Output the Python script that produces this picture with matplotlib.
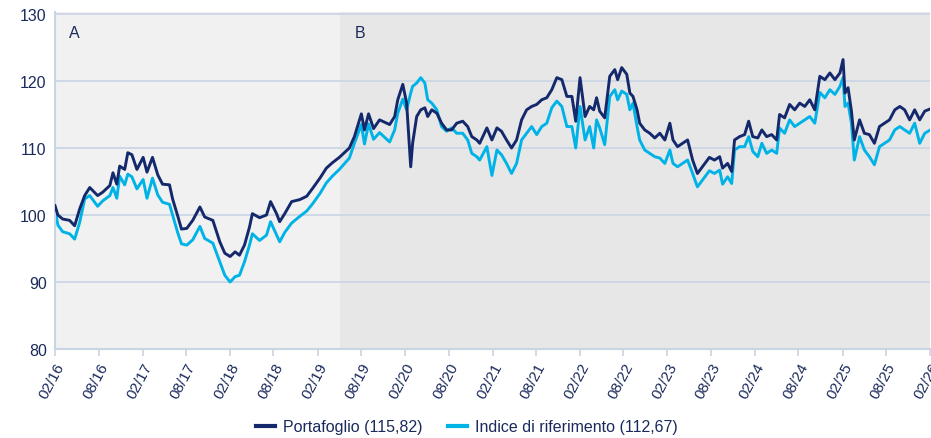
import matplotlib
matplotlib.use("Agg")
import matplotlib.pyplot as plt
import matplotlib.dates as mdates
import pandas as pd

plt.rcParams['font.family'] = ['Liberation Sans', 'DejaVu Sans']

dates = [
    "2016-02-01", "2016-02-13", "2016-03-04", "2016-04-02", "2016-04-23", "2016-05-14", "2016-06-04", "2016-06-25",
    "2016-07-28", "2016-08-18", "2016-09-17", "2016-09-30", "2016-10-16", "2016-10-28", "2016-11-18", "2016-12-01",
    "2016-12-18", "2017-01-08", "2017-02-03", "2017-02-19", "2017-03-14", "2017-04-05", "2017-04-25", "2017-05-24",
    "2017-06-06", "2017-06-27", "2017-07-13", "2017-08-04", "2017-08-29", "2017-09-28", "2017-10-18", "2017-11-21",
    "2017-12-20", "2018-01-10", "2018-02-01", "2018-02-22", "2018-03-12", "2018-04-02", "2018-04-23", "2018-05-05",
    "2018-06-04", "2018-07-03", "2018-07-20", "2018-08-14", "2018-08-27", "2018-09-17", "2018-10-16", "2018-11-19",
    "2018-12-18", "2019-01-12", "2019-02-11", "2019-03-10", "2019-04-04", "2019-05-03", "2019-06-14", "2019-07-05",
    "2019-08-03", "2019-08-16", "2019-09-02", "2019-09-23", "2019-10-18", "2019-11-29", "2019-12-20", "2020-01-02",
    "2020-01-23", "2020-02-08", "2020-02-25", "2020-03-04", "2020-03-21", "2020-04-07", "2020-04-24", "2020-05-06",
    "2020-05-23", "2020-06-13", "2020-07-03", "2020-07-24", "2020-08-14", "2020-09-04", "2020-09-29", "2020-10-20",
    "2020-11-06", "2020-11-27", "2020-12-09", "2021-01-08", "2021-01-29", "2021-02-19", "2021-03-10", "2021-03-31",
    "2021-04-21", "2021-05-12", "2021-06-02", "2021-06-23", "2021-07-14", "2021-08-04", "2021-08-25", "2021-09-15",
    "2021-10-06", "2021-10-27", "2021-11-17", "2021-12-08", "2021-12-29", "2022-01-14", "2022-02-01", "2022-02-22",
    "2022-03-13", "2022-03-30", "2022-04-11", "2022-04-24", "2022-05-15", "2022-06-05", "2022-06-26", "2022-07-08",
    "2022-07-25", "2022-08-15", "2022-08-28", "2022-09-10", "2022-09-27", "2022-10-08", "2022-10-29", "2022-11-19",
    "2022-12-10", "2022-12-31", "2023-01-21", "2023-02-11", "2023-02-24", "2023-03-15", "2023-04-05", "2023-04-26",
    "2023-05-17", "2023-06-06", "2023-06-27", "2023-07-26", "2023-08-16", "2023-09-07", "2023-09-19", "2023-10-10",
    "2023-10-27", "2023-11-08", "2023-11-29", "2023-12-20", "2024-01-06", "2024-01-23", "2024-02-13", "2024-03-01",
    "2024-03-21", "2024-04-11", "2024-05-02", "2024-05-14", "2024-06-04", "2024-06-25", "2024-07-16", "2024-08-06",
    "2024-08-27", "2024-09-17", "2024-10-08", "2024-10-29", "2024-11-19", "2024-12-10", "2024-12-31", "2025-01-21",
    "2025-02-03", "2025-02-11", "2025-02-24", "2025-03-10", "2025-03-22", "2025-04-13", "2025-05-03", "2025-05-24",
    "2025-06-14", "2025-07-05", "2025-07-26", "2025-08-16", "2025-09-07", "2025-09-28", "2025-10-18", "2025-11-08",
    "2025-11-29", "2025-12-20", "2026-01-10", "2026-02-01",
]

portafoglio = [
    101.4, 100.0, 99.4, 99.2, 98.4, 100.9, 102.9, 104.1,
    102.9, 103.4, 104.4, 106.3, 104.6, 107.3, 106.8, 109.3,
    109.0, 106.8, 108.6, 106.4, 108.6, 106.0, 104.6, 104.5,
    102.4, 99.9, 97.9, 98.0, 99.2, 101.2, 99.7, 99.2,
    96.0, 94.3, 93.8, 94.5, 94.0, 95.5, 98.2, 100.2,
    99.6, 100.0, 102.0, 100.2, 99.0, 100.2, 102.0, 102.3,
    102.8, 104.0, 105.5, 107.0, 107.8, 108.6, 110.0, 111.7,
    115.1, 112.7, 115.1, 112.9, 114.2, 113.5, 114.7, 117.2,
    119.5, 116.7, 107.2, 110.7, 114.7, 115.7, 116.0, 114.7,
    115.7, 115.2, 113.7, 112.7, 112.7, 113.7, 114.0, 113.2,
    111.7, 111.2, 110.7, 113.0, 111.2, 113.0, 112.5, 111.2,
    110.0, 111.2, 114.2, 115.7, 116.2, 116.5, 117.2, 117.5,
    118.7, 120.5, 120.2, 117.7, 117.7, 114.0, 120.5, 114.7,
    116.2, 115.7, 117.5, 115.5, 114.5, 120.7, 121.7, 120.2,
    122.0, 121.0, 118.2, 117.7, 115.7, 113.7, 112.7, 112.2,
    111.5, 112.2, 111.2, 113.7, 111.2, 110.2, 110.7, 111.2,
    108.2, 106.2, 107.2, 108.6, 108.2, 108.7, 107.0, 107.7,
    106.5, 111.2, 111.7, 112.0, 114.0, 111.7, 111.5, 112.7,
    111.7, 112.0, 111.2, 115.0, 114.5, 116.5, 115.7, 116.7,
    116.2, 117.2, 115.7, 120.7, 120.2, 121.2, 120.2, 121.2,
    123.2, 118.2, 119.0, 115.5, 111.2, 114.2, 112.2, 112.0,
    110.7, 113.2, 113.7, 114.2, 115.7, 116.2, 115.7, 114.2,
    115.7, 114.2, 115.5, 115.82,
]

indice = [
    100.9, 98.5, 97.5, 97.2, 96.4, 98.9, 102.4, 102.9,
    101.3, 102.1, 102.9, 104.1, 102.5, 105.8, 104.5, 106.1,
    105.7, 103.9, 105.3, 102.5, 105.5, 103.0, 101.9, 101.6,
    100.0, 97.4, 95.7, 95.5, 96.3, 98.3, 96.5, 95.8,
    93.0, 91.0, 90.0, 90.8, 91.0, 93.0, 95.5, 97.2,
    96.2, 97.0, 99.0, 97.0, 96.0, 97.4, 98.8, 99.8,
    100.6, 101.7, 103.2, 104.8, 105.8, 106.8, 108.5, 110.7,
    113.5, 110.6, 113.6, 111.3, 112.3, 110.9, 112.7, 115.2,
    117.3, 115.7, 118.2, 119.2, 119.7, 120.5, 119.7, 117.2,
    116.7, 115.7, 113.2, 112.5, 113.0, 112.2, 112.2, 111.2,
    109.2, 108.7, 108.2, 110.2, 105.9, 109.7, 109.0, 107.7,
    106.2, 107.7, 111.2, 112.2, 113.2, 112.0, 113.2, 113.7,
    116.0, 117.0, 116.2, 113.2, 113.2, 110.0, 116.2, 111.2,
    113.2, 110.0, 114.2, 113.0, 110.5, 117.7, 118.7, 117.2,
    118.5, 118.0, 115.7, 116.7, 113.2, 111.2, 109.7, 109.2,
    108.7, 108.5, 107.7, 109.7, 107.7, 107.2, 107.7, 108.2,
    106.2, 104.2, 105.2, 106.6, 106.2, 106.7, 104.6, 105.7,
    104.7, 109.7, 110.2, 110.2, 111.7, 109.5, 108.7, 110.7,
    109.2, 109.7, 109.2, 113.0, 112.2, 114.2, 113.2, 113.7,
    114.2, 114.7, 113.7, 118.3, 117.5, 118.7, 118.0, 119.2,
    120.5, 116.2, 116.7, 113.7, 108.2, 111.7, 109.7, 108.7,
    107.5, 110.2, 110.7, 111.2, 112.7, 113.2, 112.7, 112.2,
    113.7, 110.7, 112.2, 112.67,
]

period_labels = ["A", "B"]
period_starts = ["2016-02-01", "2019-05-07"]
period_ends = ["2019-05-07", "2026-02-01"]
legend_labels = ["Portafoglio (115,82)", "Indice di riferimento (112,67)"]
y_ticks = [80, 90, 100, 110, 120, 130]

navy = "#14296b"
cyan = "#00b3e6"
text_c = "#1b2a5c"
grid_c = "#c9d4e4"

x = pd.to_datetime(dates)

fig = plt.figure(figsize=(9.31, 4.39), dpi=100)
ax = fig.add_axes([55/931, 1-350/439, 875/931, 337/439])

shades = ["#f1f1f1", "#e7e7e7"]
for lab, s, e, c in zip(period_labels, period_starts, period_ends, shades):
    ax.axvspan(pd.Timestamp(s), pd.Timestamp(e), color=c, lw=0, zorder=0)
    ax.text(pd.Timestamp(s) + pd.Timedelta(days=60), 127.3, lab, fontsize=11.5,
            color=text_c, ha="left", va="center", zorder=3)

ax.plot(x, portafoglio, color=navy, lw=2.1, zorder=3, label=legend_labels[0])
ax.plot(x, indice, color=cyan, lw=2.1, zorder=2, label=legend_labels[1])
# redraw navy over cyan where appropriate
ax.lines[0].set_zorder(4)

ax.set_ylim(80, 130.3)
ax.set_xlim(pd.Timestamp("2016-02-01"), pd.Timestamp("2026-02-01"))
ax.set_yticks(y_ticks)
ax.yaxis.grid(True, color=grid_c, lw=1.2, zorder=1)
ax.set_axisbelow(True)

ticks = pd.date_range("2016-02-01", "2026-02-01", freq="6MS")
ax.set_xticks(ticks)
ax.xaxis.set_major_formatter(mdates.DateFormatter("%m/%y"))
plt.setp(ax.get_xticklabels(), rotation=62, ha="right", rotation_mode="anchor")

for sp in ["top", "right"]:
    ax.spines[sp].set_visible(False)
for sp in ["left", "bottom"]:
    ax.spines[sp].set_color(grid_c)
    ax.spines[sp].set_linewidth(1.5)

ax.tick_params(axis="x", colors=grid_c, length=5, width=1.2, labelcolor=text_c, labelsize=11, pad=3)
ax.tick_params(axis="y", colors=grid_c, length=0, labelcolor=text_c, labelsize=11.5, pad=6)

leg = fig.legend(handles=ax.lines[:2], labels=legend_labels, loc="center",
                 bbox_to_anchor=(467/931, 1-428/439), ncol=2, frameon=False,
                 fontsize=11.5, handlelength=1.2, handletextpad=0.5, columnspacing=1.6)
for t in leg.get_texts():
    t.set_color(text_c)
for h in leg.legend_handles:
    h.set_linewidth(3)

fig.savefig("out.png", dpi=100)
